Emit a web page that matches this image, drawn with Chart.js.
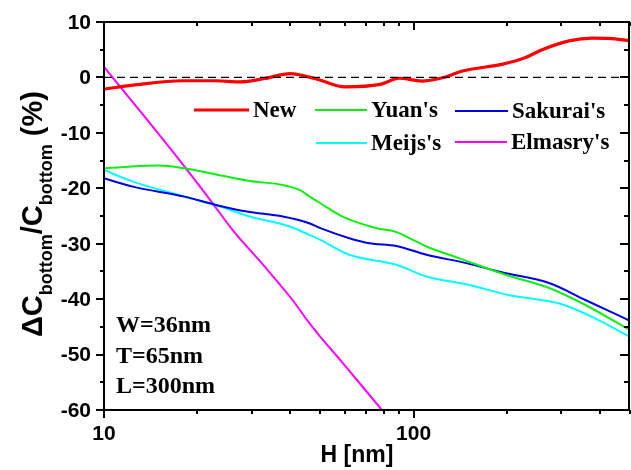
<!DOCTYPE html>
<html>
<head>
<meta charset="utf-8">
<script src="https://cdn.jsdelivr.net/npm/chart.js@4"></script>
<style>
  html, body { margin: 0; padding: 0; background: #fff; }
</style>
</head>
<body>
<canvas id="chart" width="631" height="470"></canvas>
<script>
// H [nm] and deviation (%)
const newPts = [[10,-2.1],[12.4,-1.4],[18,-0.6],[23,-0.6],[27.5,-0.8],[33,-0.2],[40,0.7],[45,0.2],[50,-0.5],[60,-1.7],[78,-1.25],[90,-0.15],[106,-0.65],[124,-0.05],[145,1.2],[194,2.4],[230,3.6],[260,5.0],[318,6.6],[377,7.1],[428,7.05],[500,6.6]];
const yuanPts = [[10,-16.4],[12,-16.1],[15,-15.9],[18.2,-16.4],[23,-17.5],[29.6,-18.7],[37.8,-19.4],[42.8,-20.3],[46.2,-21.5],[50,-22.7],[59,-25.1],[76,-27.2],[88,-27.9],[99.5,-29.3],[110,-30.5],[140,-32.6],[198,-35.6],[274,-38.0],[360,-41.1],[500,-45.6]];
const sakuraiPts = [[10,-18.2],[12.4,-19.7],[18.2,-21.5],[23,-23.0],[28.9,-24.2],[37.8,-25.1],[46,-26.3],[50,-27.2],[62,-29.0],[72,-29.9],[88,-30.4],[110,-32.0],[148,-33.5],[194,-35.2],[274,-37.1],[360,-40.2],[500,-43.9]];
const meijsPts = [[10,-16.7],[12.4,-18.8],[18.2,-21.5],[23.7,-23.3],[29.6,-25.1],[39.8,-26.9],[46,-28.4],[50,-29.3],[62,-32.0],[88,-33.8],[110,-35.9],[150,-37.4],[204,-39.3],[296,-40.8],[377,-43.2],[500,-46.8]];
const elmasryPts = [[10,1.9],[13,-5.9],[18.2,-16.1],[22.5,-22.8],[26,-27.5],[33,-34.1],[40.7,-40.2],[46,-44.3],[50,-46.8],[59,-51.5],[79,-60]];
const zeroPts = [[10,0],[500,0]];

const xTicks = [10,20,30,40,50,60,70,80,90,100,200,300,400,500];
const xLabels = [10,100];
const yTicks = [10,0,-10,-20,-30,-40,-50,-60];
const notes = ["W=36nm","T=65nm","L=300nm"];

const toXY = (arr) => arr.map(p => ({ x: p[0], y: p[1] }));

function line(label, pts, color, width) {
  return {
    label: label,
    data: toXY(pts),
    borderColor: color,
    backgroundColor: color,
    borderWidth: width,
    pointRadius: 0,
    showLine: true,
    tension: 0.4,
    cubicInterpolationMode: "monotone",
  };
}

const datasets = [
  { label: "zero", data: toXY(zeroPts), borderColor: "#000", borderWidth: 1.3,
    borderDash: [8, 5], pointRadius: 0, showLine: true },
  line("New", newPts, "#ff0000", 3.2),
  line("Yuan's", yuanPts, "#11ee11", 2),
  line("Sakurai's", sakuraiPts, "#0000e6", 2),
  line("Meijs's", meijsPts, "#00ffff", 2),
  line("Elmasry's", elmasryPts, "#ff00ff", 2),
];

// legend entries drawn inside the plot (line start x, line end x, y)
const legendSlots = [
  { label: "New", x0: 194, x1: 249, y: 110 },
  { label: "Yuan's", x0: 315, x1: 367, y: 110 },
  { label: "Sakurai's", x0: 455, x1: 508, y: 111 },
  { label: "Meijs's", x0: 316, x1: 367, y: 143 },
  { label: "Elmasry's", x0: 455, x1: 507, y: 142 },
];

const sans = "'Liberation Sans', Arial, sans-serif";
const serif = "'Liberation Serif', 'Times New Roman', serif";

const decorations = {
  id: "decorations",
  afterDraw(chart) {
    const ctx = chart.ctx;
    const xs = chart.scales.x, ys = chart.scales.y;
    const L = Math.round(xs.left), R = Math.round(xs.right);
    const T = Math.round(ys.top), B = Math.round(ys.bottom);
    ctx.save();
    ctx.setLineDash([]);
    ctx.fillStyle = "#000";
    // frame
    ctx.fillRect(L - 1, T - 1, R - L + 1, 2);
    ctx.fillRect(L - 1, B - 1, R - L + 1, 2);
    ctx.fillRect(L - 1, T - 1, 2, B - T + 2);
    ctx.fillRect(R - 2, T - 1, 2, B - T + 2);

    // x ticks: outward on bottom, inward on top
    xTicks.forEach(v => {
      const px = Math.round(xs.getPixelForValue(v));
      const len = xLabels.includes(v) ? 8 : 4;
      ctx.fillRect(px - 1, B, 2, len);
      ctx.fillRect(px - 1, T, 2, len);
    });
    // y ticks every 5
    for (let v = -60; v <= 10; v += 5) {
      const py = Math.round(ys.getPixelForValue(v));
      const len = v % 10 === 0 ? 8 : 4;
      ctx.fillRect(L - len, py - 1, len, 2);
      ctx.fillRect(R - 2 - len, py - 1, len, 2);
    }

    // tick labels
    ctx.font = "bold 21px " + sans;
    ctx.textAlign = "right";
    ctx.textBaseline = "middle";
    yTicks.forEach(v => ctx.fillText(String(v), 91, ys.getPixelForValue(v) + 1));
    ctx.textAlign = "center";
    ctx.textBaseline = "alphabetic";
    xLabels.forEach(v => ctx.fillText(String(v), xs.getPixelForValue(v), 440));

    // legend
    ctx.font = "bold 23px " + serif;
    ctx.textBaseline = "middle";
    ctx.textAlign = "left";
    legendSlots.forEach(s => {
      const ds = chart.data.datasets.find(d => d.label === s.label);
      ctx.strokeStyle = ds.borderColor;
      ctx.lineWidth = ds.borderWidth;
      ctx.beginPath();
      ctx.moveTo(s.x0, s.y); ctx.lineTo(s.x1, s.y);
      ctx.stroke();
      ctx.fillText(s.label, s.x1 + 4, s.y + 1);
    });

    // parameters
    ctx.font = "bold 24px " + serif;
    ctx.textBaseline = "alphabetic";
    notes.forEach((t, i) => ctx.fillText(t, 116, 332 + i * 30.5));

    // axis titles
    ctx.font = "bold 23px " + sans;
    ctx.textAlign = "center";
    ctx.fillText("H [nm]", 357, 462);

    ctx.translate(42, 337);
    ctx.rotate(-Math.PI / 2);
    ctx.textAlign = "left";
    const big = "bold 29px " + sans;
    const small = "bold 18px " + sans;
    const parts = [["\u0394C", big, 0], ["bottom", small, 10], ["/C", big, 0], ["bottom", small, 10], [" (%)", big, 0]];
    let cx = 0;
    parts.forEach(p => {
      ctx.font = p[1];
      ctx.fillText(p[0], cx, p[2]);
      cx += ctx.measureText(p[0]).width;
    });
    ctx.restore();
  }
};

new Chart(document.getElementById("chart"), {
  type: "scatter",
  data: { datasets: datasets },
  plugins: [decorations],
  options: {
    responsive: false,
    animation: false,
    layout: { autoPadding: false, padding: { top: 22, right: 1, left: 104, bottom: 60 } },
    plugins: { legend: { display: false }, tooltip: { enabled: false } },
    scales: {
      x: {
        type: "logarithmic",
        min: 10,
        max: 500,
        grid: { display: false, drawTicks: false },
        border: { display: false },
        ticks: { display: false },
        afterFit: (s) => { s.height = 0; },
      },
      y: {
        min: -60,
        max: 10,
        grid: { display: false, drawTicks: false },
        border: { display: false },
        ticks: { display: false },
        afterFit: (s) => { s.width = 0; },
      },
    },
  },
});
</script>
</body>
</html>
